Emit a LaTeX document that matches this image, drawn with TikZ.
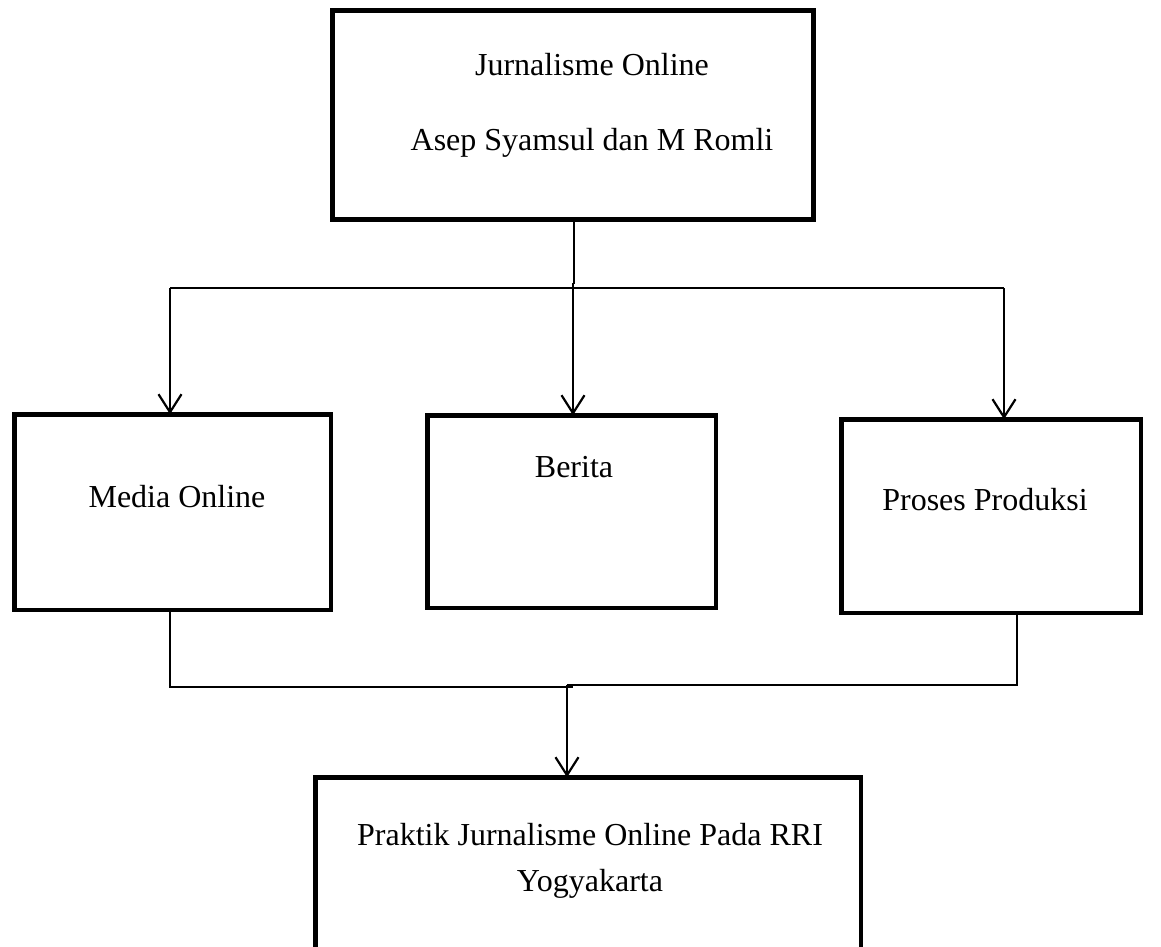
\documentclass[tikz,border=0pt]{standalone}
\usepackage{fontspec}
\setmainfont{Liberation Serif}
\usetikzlibrary{arrows.meta}
\begin{document}
\begin{tikzpicture}[x=1pt,y=-1pt,
  box/.style={draw, line width=4.5pt, inner sep=0pt, outer sep=0pt, rectangle},
  txt/.style={anchor=base, inner sep=0pt, font=\fontsize{32}{38}\selectfont},
  conn/.style={line width=2pt},
  arr/.style={line width=2pt, -{Straight Barb[length=18pt,width=23pt,line width=2.2pt]}}]
\useasboundingbox (0,0) rectangle (1161,946);
\begin{scope}
\clip (0,0) rectangle (1161,946);
% boxes
\node[box, minimum width=481pt, minimum height=209pt] (top) at (573,115) {};
\node[box, minimum width=316.5pt, minimum height=195.5pt] (media) at (172.5,512) {};
\node[box, minimum width=288.5pt, minimum height=192.5pt] (berita) at (571.5,511.5) {};
\node[box, minimum width=299.5pt, minimum height=193.5pt] (proses) at (991,516) {};
\node[box, minimum width=545.5pt, minimum height=240pt] (praktik) at (588,897.25) {};
\end{scope}
% texts
\node[txt] (t1) at (592,75) {Jurnalisme Online};
\node[txt] (t2) at (592,150) {Asep Syamsul dan M Romli};
\node[txt] (t3) at (177,507) {Media Online};
\node[txt] (t4) at (574,477) {Berita};
\node[txt] (t5) at (985,510) {Proses Produksi};
\node[txt] (t6) at (590,845) {Praktik Jurnalisme Online Pada RRI};
\node[txt] (t7) at (590,891) {Yogyakarta};
% junction coordinates
\coordinate (topout) at (574,221);
\coordinate (topend) at (574,284);
\coordinate (busL) at (170,288);
\coordinate (busR) at (1004,288);
\coordinate (midstart) at (573,283);
\coordinate (lowL) at (170,687);
\coordinate (lowM1) at (573,687);
\coordinate (lowR) at (1017,685);
\coordinate (lowM2) at (567,685);
% upper connectors
\draw[line width=1.5pt] (topout) -- (topend);
\draw[conn] (busL) -- (busR);
\draw[arr] (busL) -- (busL |- media.north);
\draw[arr] (midstart) -- (midstart |- berita.north);
\draw[arr] (busR) -- (busR |- proses.north);
% lower connectors
\draw[conn] (lowL |- media.south) -- (lowL) -- (lowM1);
\draw[conn] (lowR |- proses.south) -- (lowR) -- (lowM2);
\draw[arr] (lowM2) -- (lowM2 |- praktik.north);
\end{tikzpicture}
\end{document}
